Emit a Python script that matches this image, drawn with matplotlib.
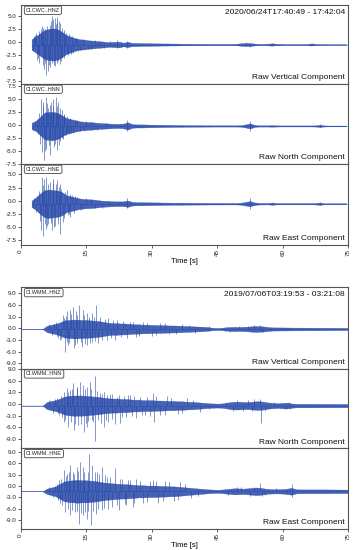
import numpy as np
import matplotlib
matplotlib.use("Agg")
import matplotlib.pyplot as plt

plt.rcParams["font.family"] = ["Liberation Sans", "DejaVu Sans"]

# time grids of the envelope samples (s)
t_cwc = np.arange(2.5, 75.0, 1.0)
t_wmm = np.arange(0.0, 76.0, 1.0)

# trace baselines (raw offset)
cwc_base = [-0.5, -0.2, -0.6]
wmm_base = [-0.2, -0.4, -1.4]

# --- CWC event, dense part of the trace (half width)
cwc_hnz_env = [
    1.0, 1.6, 2.2, 2.8, 3.0, 3.1, 2.9, 2.4, 1.8, 1.5,
    1.2, 1.0, 0.95, 0.8, 0.75, 0.65, 0.6, 0.5, 0.45, 0.5,
    0.55, 0.35, 0.5, 0.3, 0.3, 0.28, 0.25, 0.25, 0.22, 0.22,
    0.2, 0.2, 0.18, 0.18, 0.16, 0.15, 0.15, 0.14, 0.13, 0.13,
    0.12, 0.12, 0.12, 0.12, 0.12, 0.12, 0.12, 0.15, 0.25, 0.3,
    0.28, 0.18, 0.12, 0.12, 0.15, 0.22, 0.14, 0.12, 0.1, 0.1,
    0.1, 0.1, 0.1, 0.12, 0.2, 0.12, 0.1, 0.1, 0.08, 0.08,
    0.08, 0.08, 0.08,
]
cwc_hnn_env = [
    0.6, 1.0, 1.8, 2.6, 2.7, 2.7, 2.5, 2.0, 1.5, 1.3,
    1.1, 0.9, 0.8, 0.75, 0.7, 0.6, 0.55, 0.5, 0.45, 0.4,
    0.4, 0.45, 0.7, 0.35, 0.3, 0.3, 0.28, 0.25, 0.25, 0.22,
    0.22, 0.2, 0.2, 0.18, 0.18, 0.16, 0.15, 0.15, 0.14, 0.14,
    0.13, 0.13, 0.12, 0.12, 0.12, 0.12, 0.12, 0.12, 0.15, 0.3,
    0.5, 0.2, 0.12, 0.12, 0.12, 0.15, 0.12, 0.1, 0.1, 0.1,
    0.1, 0.1, 0.1, 0.1, 0.1, 0.12, 0.2, 0.1, 0.08, 0.08,
    0.08, 0.08, 0.08,
]
cwc_hne_env = [
    0.6, 1.2, 2.0, 2.6, 2.7, 2.6, 2.5, 2.2, 1.6, 1.4,
    1.2, 1.0, 0.9, 0.85, 0.8, 0.7, 0.6, 0.55, 0.5, 0.45,
    0.45, 0.45, 0.6, 0.35, 0.3, 0.3, 0.28, 0.27, 0.25, 0.25,
    0.22, 0.22, 0.2, 0.2, 0.2, 0.18, 0.18, 0.17, 0.17, 0.16,
    0.16, 0.15, 0.15, 0.15, 0.14, 0.14, 0.14, 0.14, 0.2, 0.35,
    0.5, 0.25, 0.15, 0.14, 0.13, 0.2, 0.13, 0.12, 0.12, 0.12,
    0.12, 0.12, 0.12, 0.12, 0.12, 0.14, 0.22, 0.1, 0.1, 0.1,
    0.1, 0.1, 0.1,
]

# peaks sticking out of the dense part: (time s, amplitude)
cwc_hnz_peaks = [
    (3.0, 1.6), (3.5, 2.2), (3.7, -2.9), (4.3, -3.5), (4.6, 3.0), (5.0, -4.0),
    (5.3, -4.8), (5.6, 2.9), (5.8, -5.8), (6.2, -5.1), (6.6, 3.8), (6.9, 4.6),
    (7.1, 5.4), (7.2, -3.5), (7.4, 5.0), (7.8, 5.1), (7.9, -4.2), (8.2, 4.4),
    (8.4, 5.2), (8.6, -3.2), (8.8, 4.5), (9.1, -3.8), (9.4, 3.2), (9.5, -2.6),
    (9.8, 2.8), (10.1, 1.6), (10.5, -1.9), (11.0, 2.0), (12.0, -1.6), (12.4, 1.3),
    (13.2, -1.2), (14.3, 1.0), (15.5, -0.9), (17.0, 0.8), (19.0, -0.7), (22.0, 0.8),
    (22.1, -0.6), (24.3, 0.7), (24.4, -0.6), (51.5, 0.4), (52.5, -0.4), (57.8, 0.3),
    (67.0, 0.25),
    (2.8, -1.2), (3.2, 1.9), (4.0, -2.6), (4.1, 2.6), (4.9, 3.5), (5.2, 3.2),
    (5.5, -3.6), (6.0, 3.6), (6.4, -3.9), (6.8, -4.3), (7.6, -3.9), (8.0, 4.0),
    (8.3, -3.6), (9.0, 4.2), (9.3, -3.1), (9.9, -2.6), (10.3, 2.3), (10.8, -2.1),
    (11.5, -1.8), (11.8, 1.6), (12.8, 1.3), (13.6, -1.1), (16.0, -0.9), (18.0, 0.7),
    (20.5, 0.6), (23.0, -0.5),
]
cwc_hnn_peaks = [
    (3.3, 1.0), (4.0, -1.5), (4.6, 5.2), (4.8, -5.0), (5.2, 4.6), (5.3, -6.5),
    (5.8, 5.6), (5.9, -4.4), (6.2, 3.4), (6.7, 4.0), (6.8, -5.6), (7.2, -3.0),
    (7.5, 5.2), (7.6, -4.0), (8.1, 5.6), (8.2, -4.7), (8.6, 4.6), (8.8, -3.7),
    (9.1, 3.5), (9.4, -2.4), (9.5, 3.0), (9.8, 2.4), (10.3, -1.8), (10.7, -1.5),
    (11.2, 1.6), (12.0, -1.3), (13.0, 1.1), (14.5, -0.9), (16.0, 0.8), (24.3, 1.2),
    (24.4, -1.0), (52.5, 1.0), (52.6, -0.9), (68.5, 0.3), (68.6, -0.3),
    (2.9, -0.8), (3.7, 1.3), (4.2, 2.5), (4.4, -3.5), (5.0, 3.8), (5.6, -4.8),
    (6.0, 4.4), (6.4, -3.6), (7.0, 4.6), (7.3, 3.8), (7.9, -3.4), (8.4, 3.9),
    (9.0, -3.0), (9.7, -2.6), (10.0, 2.2), (10.5, 1.9), (11.0, -1.6), (11.6, -1.3),
    (12.5, 1.2), (13.5, -1.0), (15.0, 0.9), (17.5, -0.8), (19.5, 0.6),
]
cwc_hne_peaks = [
    (3.0, 1.0), (3.6, -1.5), (4.6, -5.1), (4.8, 5.1), (5.0, -6.1), (5.3, 4.8),
    (5.8, -4.8), (5.9, 5.1), (6.3, -3.8), (6.7, 4.2), (7.1, -5.1), (7.5, 4.8),
    (7.9, -4.2), (8.4, 4.5), (8.7, 3.2), (9.0, -5.8), (9.1, 3.8), (9.6, -3.5),
    (10.5, 2.6), (11.0, -2.0), (11.3, 1.9), (11.4, -2.6), (12.5, 1.4), (13.5, -1.2),
    (15.0, 1.0), (17.0, -0.9), (24.3, 1.0), (24.4, -0.9), (52.5, 1.1), (52.6, -1.0),
    (57.8, 0.3), (68.5, 0.35), (68.6, -0.3),
    (2.8, -0.9), (3.8, 1.5), (4.2, 2.4), (4.4, -3.3), (5.1, 3.6), (5.5, -3.9),
    (6.0, -4.2), (6.2, 3.7), (6.9, -3.6), (7.3, 3.9), (7.7, -4.4), (8.1, 3.8),
    (8.5, -3.8), (9.3, 2.9), (9.8, -2.8), (10.2, 2.3), (10.8, -2.1), (11.8, 1.6),
    (12.2, -1.7), (13.0, 1.2), (14.0, -1.1), (16.0, 0.9), (18.5, -0.8), (20.0, 0.6),
]

# --- WMM event
wmm_hnz_env = [
    0, 0, 0, 0, 0, 0, 0.8, 1.1, 1.3, 1.7,
    2.2, 2.3, 2.4, 2.4, 2.3, 2.3, 2.2, 2.1, 2.0, 1.8,
    1.6, 1.5, 1.5, 1.4, 1.4, 1.3, 1.2, 1.2, 1.1, 1.1,
    1.05, 1.0, 1.0, 0.95, 0.9, 0.9, 0.85, 0.8, 0.75, 0.7,
    0.65, 0.6, 0.55, 0.45, 0.3, 0.25, 0.3, 0.45, 0.5, 0.55,
    0.5, 0.55, 0.6, 0.7, 0.75, 0.7, 0.6, 0.45, 0.4, 0.4,
    0.38, 0.38, 0.36, 0.35, 0.35, 0.34, 0.33, 0.32, 0.32, 0.31,
    0.3, 0.3, 0.3, 0.28, 0.28, 0.27,
]
wmm_hnn_env = [
    0, 0, 0, 0, 0, 0, 0.9, 1.2, 1.4, 1.8,
    2.3, 2.5, 2.6, 2.6, 2.6, 2.5, 2.4, 2.3, 2.2, 2.0,
    1.9, 1.8, 1.8, 1.7, 1.7, 1.6, 1.5, 1.5, 1.4, 1.4,
    1.4, 1.3, 1.3, 1.25, 1.2, 1.2, 1.1, 1.1, 1.0, 0.95,
    0.9, 0.8, 0.7, 0.6, 0.55, 0.5, 0.55, 0.7, 0.9, 1.0,
    1.0, 0.9, 0.9, 1.0, 1.1, 1.1, 0.9, 0.75, 0.65, 0.6,
    0.7, 0.75, 0.55, 0.45, 0.45, 0.45, 0.45, 0.45, 0.44, 0.44,
    0.43, 0.43, 0.42, 0.42, 0.42, 0.4,
]
wmm_hne_env = [
    0, 0, 0, 0, 0, 0, 0.7, 1.0, 1.3, 2.0,
    2.6, 2.8, 2.9, 3.0, 2.9, 2.9, 2.8, 2.7, 2.5, 2.3,
    2.2, 2.1, 2.0, 1.9, 1.9, 1.8, 1.7, 1.6, 1.6, 1.5,
    1.5, 1.5, 1.4, 1.4, 1.3, 1.3, 1.2, 1.1, 1.0, 0.9,
    0.8, 0.7, 0.6, 0.5, 0.45, 0.4, 0.45, 0.6, 0.7, 0.8,
    0.75, 0.7, 0.8, 0.9, 1.0, 0.9, 0.7, 0.6, 0.55, 0.55,
    0.6, 0.7, 0.9, 0.55, 0.5, 0.5, 0.5, 0.5, 0.5, 0.5,
    0.5, 0.48, 0.48, 0.46, 0.46, 0.45,
]

wmm_hnz_peaks = [
    (6.5, 1.3), (7.2, -1.6), (8.0, 1.8), (8.5, -2.2), (9.0, -2.8), (9.6, 3.6),
    (10.1, -5.8), (10.5, 4.5), (10.9, -4.1), (11.3, 4.9), (11.9, 5.7), (12.1, -5.0),
    (12.7, 4.5), (13.0, -3.7), (13.4, 6.2), (14.0, -4.5), (14.2, 4.9), (15.1, 4.0),
    (15.2, -4.1), (16.3, 4.2), (16.4, -3.3), (17.2, 6.2), (17.8, -3.7), (18.2, 3.2),
    (19.7, -2.8), (20.1, 2.7), (21.6, -2.8), (22.0, 2.3), (24.3, -2.4), (25.0, 1.9),
    (26.5, -2.0), (28.0, 1.8), (30.0, -1.7), (32.0, 1.6), (34.0, -1.4), (37.0, 1.3),
    (40.0, -1.0), (50.0, 0.8), (53.5, 0.9), (54.8, 1.1), (55.5, -0.9),
    (7.6, 1.4), (8.2, -1.8), (9.3, -2.5), (9.9, 2.9), (10.3, 3.4), (10.7, -3.4),
    (11.1, -3.6), (11.6, 3.8), (12.4, -4.2), (12.9, 3.6), (13.7, -3.4), (14.6, 3.5),
    (14.8, -3.9), (15.6, 3.2), (15.8, -3.6), (16.8, 3.0), (17.0, -3.0), (18.6, -2.8),
    (19.2, 2.6), (20.7, -2.4), (21.2, 2.2), (23.0, -2.0), (23.5, 2.1), (25.8, 1.8),
    (27.0, -1.8), (29.0, 1.6), (31.0, -1.5), (33.0, 1.5), (35.5, -1.3), (38.5, 1.1),
    (43.0, 0.7), (48.0, -0.7), (52.0, 0.8), (57.0, -0.6), (60.0, 0.5),
]
wmm_hnn_peaks = [
    (6.5, 1.5), (7.3, -1.8), (8.2, 2.0), (8.8, -2.4), (9.8, 3.6), (9.9, -4.1),
    (10.5, 4.5), (10.9, -5.4), (11.3, 4.0), (12.0, 5.7), (12.1, -6.3), (12.8, 4.9),
    (13.2, -5.0), (13.6, 6.2), (14.3, 5.3), (14.4, -6.7), (15.1, 4.9), (15.2, -5.4),
    (15.9, 6.2), (16.3, -3.8), (17.0, 7.5), (17.0, -9.1), (18.2, 3.2), (18.3, -4.5),
    (19.0, 3.5), (19.1, -5.5), (19.7, 2.7), (20.1, -4.1), (21.0, 2.9), (21.5, -4.8),
    (22.0, 2.3), (22.8, -4.5), (24.0, -3.0), (25.0, 2.7), (26.5, -3.3), (27.3, 2.3),
    (28.5, -2.5), (30.4, 3.3), (30.5, -4.1), (32.0, -2.5), (33.5, 2.4), (36.0, -2.2),
    (38.0, 2.0), (41.0, -1.6), (49.5, 1.5), (51.0, -1.5), (53.5, 1.6), (54.8, 1.8),
    (54.9, -4.6), (56.0, -1.3), (61.5, 0.9), (61.6, -0.8),
    (7.8, 1.6), (8.5, -2.0), (9.3, 2.4), (9.5, -3.0), (10.2, -3.6), (10.8, 3.6),
    (11.6, -4.3), (11.8, 4.3), (12.5, -4.7), (13.0, 4.5), (13.9, -4.8), (14.7, 4.3),
    (14.9, -4.6), (15.5, -4.0), (16.2, 4.4), (16.6, -4.3), (17.5, 3.8), (17.7, -3.7),
    (18.7, 3.0), (19.5, -3.6), (20.5, 3.0), (21.0, -3.5), (22.4, 2.6), (23.3, -3.0),
    (23.6, 2.5), (24.5, 2.6), (25.5, -2.8), (26.0, 2.4), (27.8, -2.4), (29.0, 2.3),
    (29.5, -2.6), (31.0, 2.4), (33.0, -2.3), (34.5, 2.0), (37.0, -1.9), (39.5, 1.5),
    (43.0, -1.0), (47.0, 1.0), (48.5, -1.3), (52.0, 1.4), (53.0, -1.4), (58.0, 0.9),
    (60.5, -0.9),
]
wmm_hne_peaks = [
    (6.5, 1.2), (7.4, -1.5), (8.3, 1.8), (8.8, 2.9), (9.0, -3.2), (9.8, 5.5),
    (10.1, -5.4), (10.5, 4.6), (11.3, 6.8), (11.4, -6.3), (12.0, 5.0), (12.4, -5.4),
    (12.8, 6.4), (13.4, -8.5), (13.6, 7.7), (14.2, 6.4), (14.3, -6.3), (15.1, -7.2),
    (15.7, 9.9), (16.1, -8.9), (16.3, 6.8), (17.2, -5.9), (17.4, 5.1), (18.5, 6.4),
    (18.6, -5.0), (19.7, 3.8), (20.1, -4.6), (21.6, 6.0), (22.4, -5.0), (22.8, 3.3),
    (24.0, -3.5), (25.0, 2.9), (25.7, -4.1), (26.5, 3.3), (28.0, -3.0), (30.4, 3.0),
    (31.5, -3.1), (33.0, 2.6), (35.0, -2.5), (36.5, 2.4), (39.0, -1.8), (49.5, 1.2),
    (52.5, -1.2), (54.8, 2.2), (55.2, -1.2), (62.0, 1.8), (62.1, -1.6),
    (7.8, 1.5), (8.5, -2.2), (9.3, 3.3), (9.5, -3.6), (10.3, 4.0), (10.8, -4.6),
    (11.0, 5.0), (11.8, -5.0), (12.2, 4.5), (12.9, -5.2), (13.2, 5.3), (13.8, -5.6),
    (14.6, 5.0), (14.8, -5.5), (15.3, 5.2), (15.5, -5.3), (16.6, -5.3), (16.9, 5.0),
    (17.7, -4.7), (18.0, 4.6), (19.0, -4.4), (19.3, 4.2), (20.5, 3.8), (21.0, -4.2),
    (22.0, -3.6), (23.3, 3.2), (23.8, -3.3), (24.5, 3.0), (26.0, -3.0), (27.3, 2.8),
    (29.0, -2.8), (29.5, 2.7), (31.0, 2.6), (32.5, -2.6), (34.0, 2.4), (36.0, -2.3),
    (37.5, 2.0), (40.5, -1.3), (47.5, -0.9), (50.5, 1.1), (53.5, 1.2), (56.0, -1.0),
    (58.5, 0.8), (61.0, -0.8),
]

cwc_ids = ["CI.CWC..HNZ", "CI.CWC..HNN", "CI.CWC..HNE"]
wmm_ids = ["CI.WMM..HNZ", "CI.WMM..HNN", "CI.WMM..HNE"]
components = ["Raw Vertical Component", "Raw North Component", "Raw East Component"]
cwc_window = "2020/06/24T17:40:49 - 17:42:04"
wmm_window = "2019/07/06T03:19:53 - 03:21:08"
cwc_ticks = [-7.5, -5.0, -2.5, 0.0, 2.5, 5.0, 7.5]
wmm_ticks = [-9.0, -6.0, -3.0, 0.0, 3.0, 6.0, 9.0]
time_ticks = [0, 15, 30, 45, 60, 75]

# ---------------------------------------------------------------
W, H = 353, 550
fig = plt.figure(figsize=(W / 100, H / 100), dpi=100)

# panel edges in pixels (top, bottom)
cwc_rows = [(5, 84), (84, 164), (164, 245)]
wmm_rows = [(287.3, 368.7), (368.7, 448.3), (448.3, 529)]
cwc_ylims = [(-8.1, 7.1), (-7.55, 7.9), (-8.5, 7.0)]
wmm_ylims = [(-10.4, 10.5), (-11.4, 9.1), (-11.3, 9.9)]
x0, x1 = 20.7, 348.3

color = "#2447a8"
spine_c = "#555555"


def panel(top, bot):
    return fig.add_axes([x0 / W, 1 - bot / H, (x1 - x0) / W, (bot - top) / H])


def draw(ax, t, env, peaks, base, t_start):
    env = np.asarray(env, dtype=float)
    ax.plot([t_start, 75], [base, base], color=color, lw=0.6, alpha=0.45)
    ax.fill_between(t, base - env, base + env, color=color, lw=0.25, alpha=0.85)
    pt = [p[0] for p in peaks]
    pv = [base + p[1] for p in peaks]
    ax.vlines(pt, base, pv, color=color, lw=0.6, alpha=0.65)


groups = [
    (cwc_rows, cwc_ylims, t_cwc, [cwc_hnz_env, cwc_hnn_env, cwc_hne_env],
     [cwc_hnz_peaks, cwc_hnn_peaks, cwc_hne_peaks], cwc_base, 2.5,
     cwc_ids, cwc_window, cwc_ticks),
    (wmm_rows, wmm_ylims, t_wmm, [wmm_hnz_env, wmm_hnn_env, wmm_hne_env],
     [wmm_hnz_peaks, wmm_hnn_peaks, wmm_hne_peaks], wmm_base, 0.0,
     wmm_ids, wmm_window, wmm_ticks),
]

for rows, ylims, t, envs, peaks, bases, t_start, ids, window, yt in groups:
    for i in range(3):
        ax = panel(*rows[i])
        draw(ax, t, envs[i], peaks[i], bases[i], t_start)
        ax.set_yticks(yt)
        ax.set_yticklabels(["%.1f" % v for v in yt])
        ax.set_xticks(time_ticks)
        ax.set_xlim(0, 75)
        ax.set_ylim(*ylims[i])
        ax.tick_params(axis="y", labelsize=4.5, length=2, width=0.5, pad=1,
                       colors="#222222")
        for s in ax.spines.values():
            s.set_color(spine_c)
            s.set_linewidth(0.8)
        ax.text(0.016, 0.965, ids[i], transform=ax.transAxes, ha="left", va="top",
                fontsize=3.9, color="#222222",
                bbox=dict(boxstyle="round,pad=0.3", fc="white", ec="#444444", lw=0.6))
        ax.text(0.99, 0.035, components[i], transform=ax.transAxes, ha="right",
                va="bottom", fontsize=6, color="#111111")
        if i == 0:
            ax.text(0.99, 0.955, window, transform=ax.transAxes, ha="right",
                    va="top", fontsize=6, color="#111111")
        if i == 2:
            ax.set_xticklabels([str(v) for v in time_ticks], rotation=90)
            ax.tick_params(axis="x", labelsize=4.5, length=2, width=0.5, pad=1,
                           colors="#222222")
            ax.set_xlabel("Time [s]", fontsize=5.5, labelpad=1)
        else:
            ax.tick_params(axis="x", bottom=False, labelbottom=False)

fig.savefig("out.png", dpi=100)
